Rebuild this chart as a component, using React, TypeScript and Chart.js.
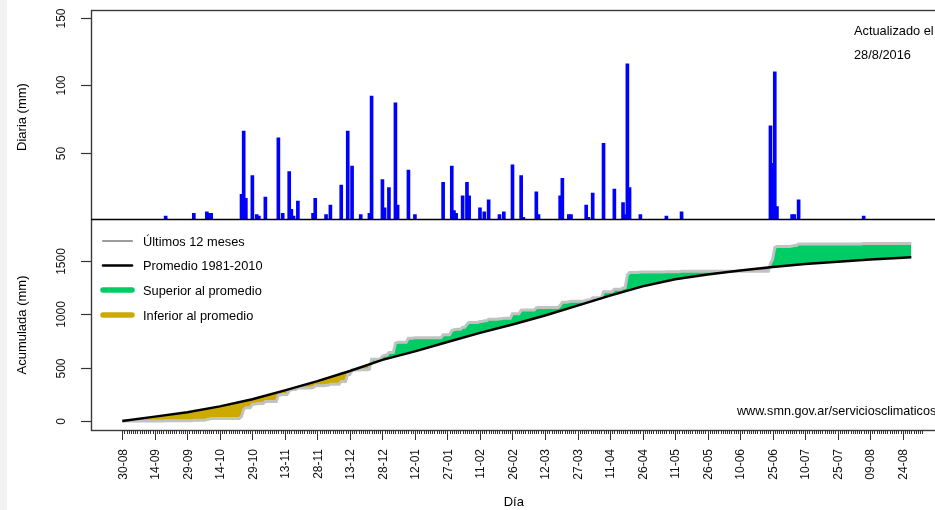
import { useEffect, useRef } from 'react';
import { Chart, registerables } from 'chart.js';

Chart.register(...registerables);

// ---- data ----
// day offsets counted from 30-08-2015
const xTickLabels = ['30-08', '14-09', '29-09', '14-10', '29-10', '13-11', '28-11', '13-12', '28-12', '12-01', '27-01', '11-02', '26-02', '12-03', '27-03', '11-04', '26-04', '11-05', '26-05', '10-06', '25-06', '10-07', '25-07', '09-08', '24-08'];
const xTickStepDays = 15;
const lastDataDay = 364; // 28-08-2016
const lastMinorTickDay = 369;

const rainDay = [20, 33, 39, 40, 41, 55, 56, 57, 60, 62, 63, 66, 72, 74, 77, 78, 79, 81, 88, 89, 94, 96, 101, 104, 106, 110, 114, 115, 120, 121, 123, 126, 127, 132, 135, 148, 152, 153, 154, 157, 159, 160, 165, 167, 169, 174, 176, 180, 184, 185, 191, 192, 202, 203, 206, 207, 214, 215, 217, 222, 227, 231, 232, 233, 234, 239, 251, 258, 299, 300, 301, 302, 309, 310, 312, 342];
const rainMm = [3, 5, 6, 5, 5, 19, 66, 16, 33, 4, 3, 17, 61, 5, 36, 8, 3, 14, 5, 16, 4, 11, 26, 66, 40, 4, 5, 92, 30, 9, 24, 87, 11, 37, 4, 28, 40, 7, 5, 18, 28, 18, 9, 6, 15, 4, 6, 41, 33, 2, 21, 4, 18, 31, 4, 4, 11, 2, 20, 57, 23, 13, 4, 116, 24, 4, 3, 6, 70, 42, 110, 10, 4, 4, 15, 3];

const avgDay = [0, 15, 30, 45, 60, 75, 90, 105, 120, 135, 150, 165, 180, 195, 210, 225, 240, 255, 270, 285, 300, 315, 330, 345, 360, 364];
const avgMm = [0, 41, 83, 137, 204, 287, 374, 469, 573, 653, 740, 826, 904, 989, 1082, 1175, 1262, 1329, 1374, 1411, 1443, 1472, 1494, 1513, 1530, 1534];

const dailyTicks = [50, 100, 150];
const cumTicks = [0, 500, 1000, 1500];

const legendLabels = ['Últimos 12 meses', 'Promedio 1981-2010', 'Superior al promedio', 'Inferior al promedio'];

// ---- derived series ----
const barPoints = rainDay.map((d, i) => ({ x: d, y: rainMm[i] }));
const cumPoints: { x: number; y: number }[] = [];
{
  let total = 0;
  for (let d = 0; d <= lastDataDay; d++) {
    rainDay.forEach((rd, i) => {
      if (rd === d) total += rainMm[i];
    });
    cumPoints.push({ x: d, y: total });
  }
}
const avgPoints = avgDay.map((d, i) => ({ x: d, y: avgMm[i] }));

const FONT = '"Liberation Sans", Arial, sans-serif';
const GREEN = '#00CC66';
const YELLOW = '#CCAA00';

const decor = {
  id: 'decor',
  afterDraw(chart: any) {
    const ctx: CanvasRenderingContext2D = chart.ctx;
    const { x, yT, yB } = chart.scales;
    const a = chart.chartArea;
    const mid = yT.bottom;
    ctx.save();

    // panel boxes
    ctx.strokeStyle = '#3a3a3a';
    ctx.lineWidth = 1.4;
    ctx.strokeRect(a.left + 0.5, a.top + 0.5, a.right - a.left, a.bottom - a.top);
    ctx.strokeStyle = '#000';
    ctx.lineWidth = 1.6;
    ctx.beginPath();
    ctx.moveTo(a.left, mid - 0.5);
    ctx.lineTo(a.right, mid - 0.5);
    ctx.stroke();

    // y ticks + labels
    ctx.strokeStyle = '#333';
    ctx.lineWidth = 1.2;
    ctx.fillStyle = '#111';
    ctx.font = '12px ' + FONT;
    ctx.textAlign = 'center';
    ctx.textBaseline = 'middle';
    const yTicks = (scale: any, ticks: number[]) => {
      ticks.forEach((v) => {
        const py = Math.round(scale.getPixelForValue(v)) + 0.5;
        ctx.beginPath();
        ctx.moveTo(a.left - 10, py);
        ctx.lineTo(a.left, py);
        ctx.stroke();
        ctx.save();
        ctx.translate(62, py);
        ctx.rotate(-Math.PI / 2);
        ctx.fillText(String(v), 0, 0);
        ctx.restore();
      });
    };
    yTicks(yT, dailyTicks);
    yTicks(yB, cumTicks);

    // x minor + major ticks
    ctx.lineWidth = 1;
    ctx.beginPath();
    for (let d = 0; d <= lastMinorTickDay; d++) {
      const px = Math.round(x.getPixelForValue(d)) + 0.5;
      const major = d % xTickStepDays === 0 && d / xTickStepDays < xTickLabels.length;
      ctx.moveTo(px, a.bottom);
      ctx.lineTo(px, a.bottom + (major ? 10 : 4));
    }
    ctx.stroke();
    ctx.textAlign = 'right';
    xTickLabels.forEach((lab, i) => {
      const px = x.getPixelForValue(i * xTickStepDays);
      ctx.save();
      ctx.translate(px + 1, a.bottom + 19);
      ctx.rotate(-Math.PI / 2);
      ctx.fillText(lab, 0, 0);
      ctx.restore();
    });

    // axis titles
    ctx.fillStyle = '#000';
    ctx.font = '13px ' + FONT;
    ctx.textAlign = 'center';
    ctx.save();
    ctx.translate(22, (a.top + mid) / 2 + 2);
    ctx.rotate(-Math.PI / 2);
    ctx.fillText('Diaria (mm)', 0, 0);
    ctx.restore();
    ctx.save();
    ctx.translate(22, (mid + a.bottom) / 2);
    ctx.rotate(-Math.PI / 2);
    ctx.fillText('Acumulada (mm)', 0, 0);
    ctx.restore();
    ctx.fillText('Día', (a.left + a.right) / 2, 502);

    // annotations
    ctx.font = '12.8px ' + FONT;
    ctx.textAlign = 'left';
    ctx.fillText('Actualizado el', 854, 31);
    ctx.fillText('28/8/2016', 854, 55);
    ctx.font = '12.6px ' + FONT;
    ctx.fillText('www.smn.gov.ar/serviciosclimaticos', 737, 412);

    // legend
    const rows = [242, 266.5, 291, 316];
    const styles = [
      { c: '#9c9c9c', w: 2.2 },
      { c: '#000', w: 2.6 },
      { c: GREEN, w: 5.5 },
      { c: YELLOW, w: 5.5 },
    ];
    ctx.lineCap = 'round';
    rows.forEach((ry, i) => {
      ctx.strokeStyle = styles[i].c;
      ctx.lineWidth = styles[i].w;
      ctx.beginPath();
      ctx.moveTo(103, ry - 1);
      ctx.lineTo(132, ry - 1);
      ctx.stroke();
    });
    ctx.font = '12.8px ' + FONT;
    ctx.fillStyle = '#000';
    ctx.textAlign = 'left';
    rows.forEach((ry, i) => ctx.fillText(legendLabels[i], 143, ry));

    ctx.restore();
  },
};

export default function App() {
  const ref = useRef<HTMLCanvasElement>(null);
  useEffect(() => {
    document.body.style.margin = '0';
    const xPerDay = 2.1677;
    const x0 = 122.3;
    const chart = new Chart(ref.current as HTMLCanvasElement, {
      type: 'bar',
      data: {
        datasets: [
          {
            type: 'line',
            label: legendLabels[1],
            data: avgPoints,
            yAxisID: 'yB',
            borderColor: '#000',
            borderWidth: 2.5,
            pointRadius: 0,
            tension: 0,
            fill: false,
          } as any,
          {
            type: 'line',
            label: legendLabels[0],
            data: cumPoints,
            yAxisID: 'yB',
            borderColor: '#c2c2c2',
            borderWidth: 3,
            pointRadius: 0,
            tension: 0,
            fill: { target: 0, above: GREEN, below: YELLOW },
          } as any,
          {
            type: 'bar',
            label: 'Diaria',
            data: barPoints,
            yAxisID: 'yT',
            backgroundColor: '#0000FF',
            borderWidth: 0,
            barThickness: 3,
          } as any,
        ],
      },
      options: {
        responsive: false,
        animation: false,
        layout: { padding: { left: 91, top: 10, right: 990 - 936.5, bottom: 80 } },
        plugins: { legend: { display: false }, tooltip: { enabled: false } },
        scales: {
          x: {
            type: 'linear',
            offset: false,
            grid: { offset: false },
            min: (91 - x0) / xPerDay,
            max: (936.5 - x0) / xPerDay,
            display: false,
          },
          yT: { type: 'linear', position: 'right', stack: 'panels', stackWeight: 1, min: 0, max: 155.9, display: false },
          yB: { type: 'linear', position: 'right', stack: 'panels', stackWeight: 1, min: -84.4, max: 1884.3, display: false },
        } as any,
      },
      plugins: [decor],
    });
    return () => chart.destroy();
  }, []);
  return (
    <div style={{ position: 'relative', width: 935, height: 510, overflow: 'hidden', background: '#fff' }}>
      <canvas ref={ref} width={990} height={510} style={{ position: 'absolute', left: 0, top: 0, width: 990, height: 510 }} />
      <div style={{ position: 'absolute', left: 0, top: 0, width: 7, height: 510, background: '#f2f2f2' }} />
    </div>
  );
}
